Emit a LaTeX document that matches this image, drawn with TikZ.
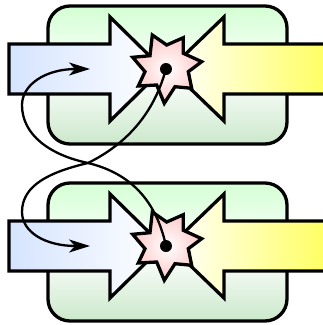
\documentclass[tikz,border=0pt]{standalone}
\usetikzlibrary{arrows.meta}
\definecolor{topgreen}{RGB}{212,255,212}
\definecolor{botgreen}{RGB}{203,232,203}
\definecolor{leftblue}{RGB}{213,228,255}
\definecolor{rightyellow}{RGB}{255,255,100}
\definecolor{starpink}{RGB}{255,200,200}
\tikzset{
  outline/.style={draw=black,line width=3.3pt,line join=miter,miter limit=10},
  panel/.style={outline,rounded corners=22pt,top color=topgreen,bottom color=botgreen,middle color=white},
  blast/.style={outline,inner color=white,outer color=starpink},
  pin/.style={circle,fill=black,inner sep=0pt,minimum size=12pt},
  link/.style={draw=black,line width=2.3pt,-{Stealth[length=21pt,width=13pt,inset=6pt]}}
}
\newcommand{\unitblock}[2]{%
\begin{scope}[yshift=#1]
  \path[panel] (48,6) rectangle (287,144);
  \path[left color=leftblue,right color=white] (9,44) -- (110,44) -- (110,17) -- (163,69) -- (110,121) -- (110,94) -- (9,94) -- cycle;
  \draw[outline] (9,44) -- (110,44) -- (110,17) -- (163,69) -- (110,121) -- (110,94) -- (9,94) -- cycle;
  \path[left color=white,right color=rightyellow] (323,44) -- (224,44) -- (224,17) -- (170,69) -- (224,121) -- (224,94) -- (323,94) -- cycle;
  \draw[outline] (323,44) -- (224,44) -- (224,17) -- (170,69) -- (224,121) -- (224,94) -- (323,94);
  \path[blast] (152.3,35) -- (166.7,45) -- (183.3,37.7) -- (183.3,53.3) -- (201.7,61.7) -- (188.3,71.7) -- (191.7,88.3) -- (175,86.7) -- (164.3,103.3) -- (156.7,85) -- (138.3,86) -- (145,71.7) -- (132.7,57.3) -- (150,55.7) -- cycle;
  \node[pin] (#2) at (166,69) {};
  \coordinate (#2in) at (90,69);
\end{scope}}
\begin{document}
\begin{tikzpicture}[x=1pt,y=-1pt]
  \useasboundingbox (0,0) rectangle (323,325);
  \unitblock{-177pt}{bottom}
  \unitblock{0pt}{top}
  \draw[link] (top.center) .. controls (160,90) and (145,135) .. (88,163)
     .. controls (50,172) and (22,185) .. (22,212)
     .. controls (22,232) and (45,246) .. (bottomin);
  \draw[link] (bottom.center) .. controls (155,195) and (125,172) .. (88,163)
     .. controls (50,155) and (22,135) .. (22,105)
     .. controls (22,85) and (45,69) .. (topin);
\end{tikzpicture}
\end{document}
